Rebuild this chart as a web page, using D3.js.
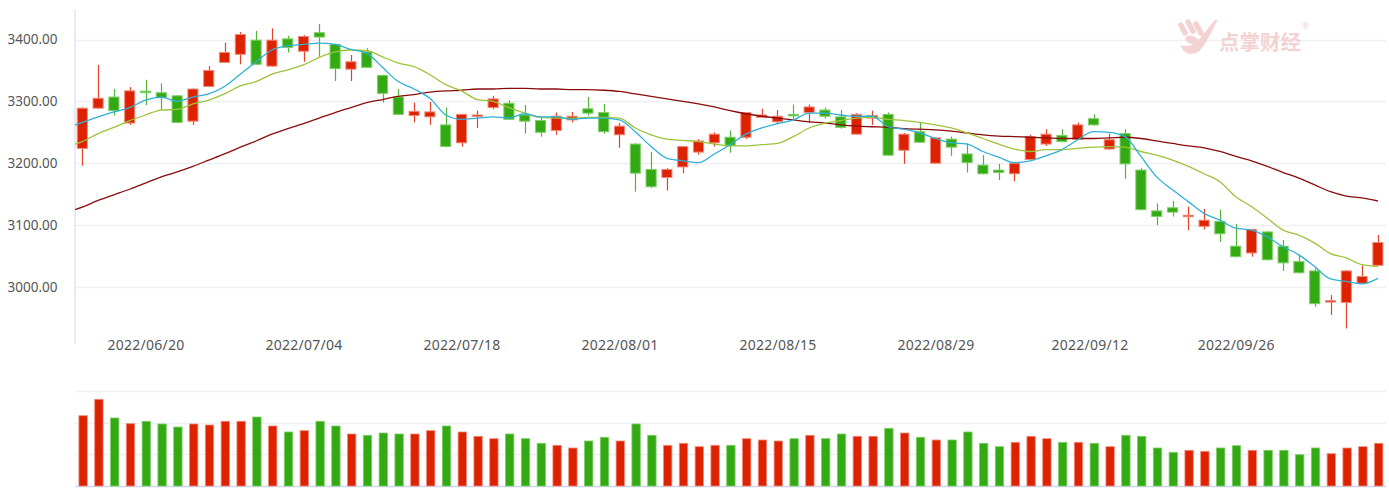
<!DOCTYPE html>
<html><head><meta charset="utf-8">
<script src="https://cdn.jsdelivr.net/npm/d3@7"></script>
<style>html,body{margin:0;padding:0;background:#fff;}svg{display:block;}</style>
</head><body>
<svg id="chart" width="1389" height="489"></svg>
<script>
// ---------- data ----------
const dates = [
"2022-06-14","2022-06-15","2022-06-16","2022-06-17","2022-06-20","2022-06-21","2022-06-22","2022-06-23","2022-06-24","2022-06-27",
"2022-06-28","2022-06-29","2022-06-30","2022-07-01","2022-07-04","2022-07-05","2022-07-06","2022-07-07","2022-07-08","2022-07-11",
"2022-07-12","2022-07-13","2022-07-14","2022-07-15","2022-07-18","2022-07-19","2022-07-20","2022-07-21","2022-07-22","2022-07-25",
"2022-07-26","2022-07-27","2022-07-28","2022-07-29","2022-08-01","2022-08-02","2022-08-03","2022-08-04","2022-08-05","2022-08-08",
"2022-08-09","2022-08-10","2022-08-11","2022-08-12","2022-08-15","2022-08-16","2022-08-17","2022-08-18","2022-08-19","2022-08-22",
"2022-08-23","2022-08-24","2022-08-25","2022-08-26","2022-08-29","2022-08-30","2022-08-31","2022-09-01","2022-09-02","2022-09-05",
"2022-09-06","2022-09-07","2022-09-08","2022-09-09","2022-09-13","2022-09-14","2022-09-15","2022-09-16","2022-09-19","2022-09-20",
"2022-09-21","2022-09-22","2022-09-23","2022-09-26","2022-09-27","2022-09-28","2022-09-29","2022-09-30","2022-10-10","2022-10-11",
"2022-10-12","2022-10-13","2022-10-14"];

const openP = [
3224,3289,3307,3265,3316.5,3314,3309,3268,3324,3363,
3376,3399,3357,3401,3381,3411,3392,3352,3380,3342,
3307,3277,3275,3262,3233,3277,3290,3297,3278,3269,
3253,3270,3288,3282,3246,3231,3190,3177,3194,3218,
3233,3242,3242,3274,3267,3279,3282,3286,3275,3247,
3273,3279,3221,3251,3200,3239,3215,3197,3189,3183,
3206,3231,3245,3239,3272,3223,3248,3189,3123,3128,
3115,3098,3106,3066,3055,3089,3066,3041,3026,2977,
2975,3006,3035];

const closeP = [
3289,3305,3285,3317,3315,3306,3266,3320,3350,3379,
3408,3360,3399,3387,3405,3404,3353,3364,3355,3313,
3279,3284,3283,3227,3279,3278,3304,3271,3268,3250,
3276,3276,3281,3251,3260,3184,3162,3190,3227,3236,
3247,3229,3282,3278,3276,3278,3291,3276,3258,3279,
3277,3213,3247,3234,3241,3226,3201,3183,3185,3200,
3243,3247,3235,3262,3262,3238,3199,3125,3114,3121,
3116,3108,3086,3049,3093,3044,3039,3023,2973,2978,
3026,3017,3072];

const highP = [
3290,3359,3320,3323,3335,3329,3310,3321,3357,3395,
3412,3414,3418,3406,3407,3425,3393,3375,3386,3343,
3320,3298,3299,3290,3280,3285,3309,3302,3294,3273,
3282,3283,3307,3296,3265,3232,3218,3192,3228,3239,
3250,3253,3283,3288,3286,3295,3295,3290,3286,3281,
3285,3282,3249,3266,3242,3243,3232,3213,3199,3201,
3246,3255,3255,3266,3279,3248,3255,3192,3135,3139,
3130,3126,3125,3102,3094,3090,3076,3052,3030,2987,
3027,3035,3084];

const lowP = [
3196,3288,3277,3262,3294,3286,3265,3262,3323,3362,
3360,3359,3356,3379,3364,3372,3333,3333,3354,3298,
3278,3266,3262,3226,3227,3257,3287,3270,3248,3243,
3246,3266,3277,3248,3225,3154,3160,3156,3184,3214,
3227,3217,3239,3273,3263,3270,3265,3272,3256,3246,
3262,3212,3199,3233,3199,3212,3185,3182,3173,3171,
3205,3228,3234,3238,3261,3222,3175,3124,3100,3114,
3092,3093,3073,3048,3049,3043,3026,3022,2968,2955,
2933,3005,3034];

const volume = [
2214,2731,2142,1962,2038,1953,1858,1953,1921,2038,
2038,2173,1890,1701,1742,2038,1890,1638,1597,1669,
1638,1638,1742,1890,1701,1565,1490,1638,1490,1345,
1282,1197,1417,1534,1417,1953,1597,1282,1345,1238,
1282,1282,1490,1449,1417,1490,1597,1490,1638,1565,
1565,1817,1669,1534,1449,1449,1701,1345,1238,1376,
1565,1490,1376,1376,1345,1238,1597,1565,1197,1061,
1124,1093,1197,1269,1124,1124,1124,986,1197,1017,
1197,1238,1345];

// moving averages: first entry is the trading day before the first candle
const ma5 = [3257,
3266,3275,3283,3290,3302,3307,3300,3307,3312,3324,
3344,3364,3383,3390,3392,3394,3392,3384,3378,3355,
3332,3320,3305,3278,3271,3273,3275,3273,3280,3275,
3275,3271,3273,3273,3270,3251,3227,3208,3204,3201,
3215,3230,3247,3257,3264,3270,3281,3281,3278,3276,
3276,3259,3255,3249,3240,3233,3231,3219,3210,3201,
3204,3212,3222,3238,3251,3250,3243,3211,3178,3157,
3138,3119,3108,3095,3092,3081,3065,3052,3033,3013,
3009,3005,3014];

const ma10 = [3227,
3235,3248,3258,3269,3278,3286,3287,3296,3302,3312,
3325,3332,3344,3351,3359,3371,3380,3383,3382,3372,
3362,3356,3343,3327,3317,3303,3300,3290,3281,3274,
3273,3273,3274,3274,3273,3257,3246,3239,3237,3235,
3231,3228,3228,3230,3232,3243,3257,3265,3269,3273,
3274,3271,3269,3266,3262,3257,3249,3240,3231,3223,
3219,3222,3222,3224,3226,3227,3226,3219,3213,3205,
3195,3183,3170,3146,3130,3111,3092,3084,3071,3054,
3047,3036,3033];

const ma30 = [3121,
3129,3140,3149,3158,3168,3178,3186,3195,3205,3215,
3226,3236,3247,3256,3264,3273,3282,3290,3298,3303,
3308,3311,3315,3317,3318,3320,3320,3321,3321,3320,
3320,3319,3319,3318,3316,3312,3308,3304,3300,3296,
3291,3285,3280,3276,3273,3270,3267,3265,3262,3260,
3259,3258,3256,3255,3254,3252,3249,3246,3244,3243,
3242,3241,3240,3240,3240,3241,3242,3240,3236,3232,
3228,3225,3219,3211,3204,3195,3185,3176,3165,3154,
3147,3144,3139];

const priceTicks = [3000, 3100, 3200, 3300, 3400];
const volumeGrid = [1000, 2000, 3000];
const dateTicks = ["2022/06/20","2022/07/04","2022/07/18","2022/08/01","2022/08/15","2022/08/29","2022/09/12","2022/09/26"];

// ---------- drawing ----------
const RED = "#dd2200", GREEN = "#33a914";
const svg = d3.select("#chart");
const L = 74.4, R = 1385.8, T = 9, B = 343;
const VB = 486, VT = 359;

const x = d3.scaleBand().domain(d3.range(dates.length)).range([L, R]).padding(0);
const step = x.step();
const cx = i => L + step * (i + 0.5);
const y = d3.scaleLinear().domain([2909.5, 3449.3]).range([B, T]);
const yv = d3.scaleLinear().domain([0, 4000]).range([VB, VT]);
const parse = d3.timeParse("%Y-%m-%d");
const parseTick = d3.timeParse("%Y/%m/%d");
const xt = d3.scaleTime().domain(dates.map(parse)).range(dates.map((d, i) => cx(i)));

// price grid
svg.append("g").selectAll("line").data(priceTicks).join("line")
  .attr("x1", 75).attr("x2", 1386)
  .attr("y1", d => Math.round(y(d)) + 0.5).attr("y2", d => Math.round(y(d)) + 0.5)
  .attr("stroke", "#eef0f5").attr("stroke-width", 1.5);

// volume grid
svg.append("g").selectAll("line").data(volumeGrid).join("line")
  .attr("x1", 75).attr("x2", 1386)
  .attr("y1", d => Math.round(yv(d)) + 0.5).attr("y2", d => Math.round(yv(d)) + 0.5)
  .attr("stroke", "#eef0f5").attr("stroke-width", 1.5);

// watermark (logo)
const WM = "#f4d2d2";
const wm = svg.append("g");
[[1181, 25, 1185, 33], [1188, 22, 1193, 31], [1196, 24, 1201, 33]].forEach(([a, b, c, d]) => {
  wm.append("line").attr("x1", a).attr("y1", b).attr("x2", c).attr("y2", d)
    .attr("stroke", WM).attr("stroke-width", 5.5).attr("stroke-linecap", "round");
});
wm.append("ellipse").attr("cx", 1192).attr("cy", 40).attr("rx", 7).attr("ry", 4)
  .attr("transform", "rotate(20,1192,40)").attr("fill", WM);
wm.append("path").attr("d", "M1180,45 Q1186,58 1198,52 Q1204,48 1217,21 Q1218,18 1214,21 L1197,42 Q1190,48 1180,45 Z")
  .attr("fill", WM);
wm.append("text").attr("x", 1219).attr("y", 50).text("点掌财经")
  .attr("font-family", "'Noto Sans CJK SC'").attr("font-weight", "bold").attr("font-size", 20.5)
  .attr("fill", WM);
wm.append("text").attr("x", 1302).attr("y", 29).text("®")
  .attr("font-family", "'Noto Sans'").attr("font-size", 8).attr("fill", WM);

// y axis
const yAxis = svg.append("g").attr("transform", `translate(74.5,0)`)
  .call(d3.axisLeft(y).tickValues(priceTicks).tickFormat(d3.format(".2f")).tickSize(0).tickSizeOuter(0).tickPadding(17));
yAxis.select(".domain").attr("stroke", "#ccd5f2").attr("stroke-width", 1);
yAxis.selectAll("text").attr("font-family", "'Noto Sans'").attr("font-size", 13.5).attr("fill", "#555");

// x axis (dates)
const xAxis = svg.append("g").attr("transform", `translate(0,${B - 4})`)
  .call(d3.axisBottom(xt).tickValues(dateTicks.map(parseTick)).tickFormat(d3.timeFormat("%Y/%m/%d")).tickSize(0).tickPadding(0));
xAxis.select(".domain").remove();
xAxis.selectAll("text").attr("font-family", "'Noto Sans'").attr("font-size", 14)
  .attr("letter-spacing", 0.25).attr("fill", "#555").attr("dy", "0.78em");

// volume baseline
svg.append("line").attr("x1", 75).attr("x2", 1386).attr("y1", VB + 0.5).attr("y2", VB + 0.5)
  .attr("stroke", "#ccd5f2").attr("stroke-width", 1.5);

// candles
const idx = d3.range(dates.length);
const isUp = i => closeP[i] >= openP[i];
const bw = step * 0.64;
const cg = svg.append("g");
cg.selectAll("line.wick").data(idx).join("line").attr("class", "wick")
  .attr("x1", i => Math.round(cx(i)) + 0.5).attr("x2", i => Math.round(cx(i)) + 0.5)
  .attr("y1", i => y(highP[i])).attr("y2", i => y(lowP[i]))
  .attr("stroke", i => isUp(i) ? RED : GREEN).attr("stroke-width", 1.2).attr("stroke-opacity", 0.85);
cg.selectAll("rect.body").data(idx).join("rect").attr("class", "body")
  .attr("x", i => cx(i) - bw / 2)
  .attr("y", i => y(Math.max(openP[i], closeP[i])))
  .attr("width", bw)
  .attr("height", i => Math.max(1.5, Math.abs(y(openP[i]) - y(closeP[i]))))
  .attr("fill", i => isUp(i) ? RED : GREEN)
  .attr("stroke", i => isUp(i) ? "#f08a7a" : "#7fcf66").attr("stroke-width", 1);

// moving averages
const clip = svg.append("clipPath").attr("id", "plotclip").append("rect")
  .attr("x", 75).attr("y", T).attr("width", R - 75).attr("height", B - T);
const line = d3.line().x((d, j) => cx(j - 1)).y(d => y(d)).curve(d3.curveMonotoneX);
const lg = svg.append("g").attr("clip-path", "url(#plotclip)");
[[ma30, "#8b0b0b"], [ma10, "#9cc43a"], [ma5, "#2fb0d8"]].forEach(([arr, col]) => {
  lg.append("path").attr("d", line(arr)).attr("fill", "none").attr("stroke", col).attr("stroke-width", 1.3);
});

// volume bars
const vw = step * 0.53;
svg.append("g").selectAll("rect").data(idx).join("rect")
  .attr("x", i => cx(i) + 0.8 - vw / 2)
  .attr("y", i => yv(volume[i]))
  .attr("width", vw)
  .attr("height", i => VB - yv(volume[i]))
  .attr("fill", i => isUp(i) ? RED : GREEN)
  .attr("stroke", i => isUp(i) ? "#f08a7a" : "#7fcf66").attr("stroke-width", 0.8);
</script>
</body></html>
